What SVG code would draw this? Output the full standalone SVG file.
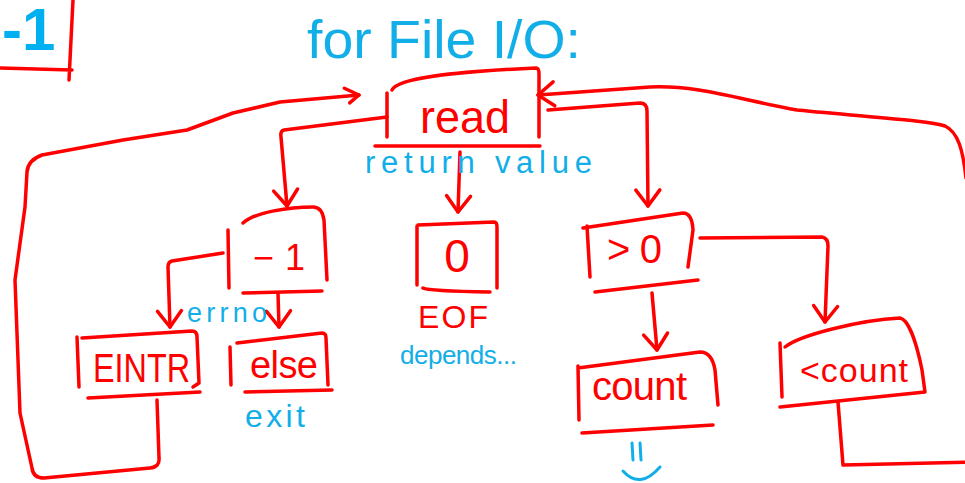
<svg xmlns="http://www.w3.org/2000/svg" width="965" height="483" viewBox="0 0 965 483">
  <style>
    .ink { fill: none; stroke: #ff0000; stroke-width: 3.5; stroke-linecap: round; stroke-linejoin: round; }
    .blueink { fill: none; stroke: #12aee8; stroke-width: 3; stroke-linecap: round; stroke-linejoin: round; }
    .lbl { font-family: "Liberation Sans", "DejaVu Sans", sans-serif; fill: #ff0000; }
    .note { font-family: "Liberation Sans", "DejaVu Sans", sans-serif; fill: #12aee8; }
  </style>
  <defs>
    <marker id="arr" markerUnits="userSpaceOnUse" markerWidth="40" markerHeight="40" refX="0" refY="0" viewBox="-20 -20 40 40" orient="auto" overflow="visible">
      <path d="M-16,-12 L0,0 L-16,12" fill="none" stroke="#ff0000" stroke-width="3.5" stroke-linecap="round" stroke-linejoin="round"/>
    </marker>
    <marker id="arrSmall" markerUnits="userSpaceOnUse" markerWidth="30" markerHeight="30" refX="0" refY="0" viewBox="-15 -15 30 30" orient="auto" overflow="visible">
      <path d="M-14,-8 L0,0 L-10,7" fill="none" stroke="#ff0000" stroke-width="3.5" stroke-linecap="round" stroke-linejoin="round"/>
    </marker>
  </defs>
  <rect width="965" height="483" fill="#ffffff"/>

  <!-- slide number corner -->
  <g id="slide-num">
    <text x="2" y="50" font-family="Liberation Sans, sans-serif" font-weight="bold" font-size="60" fill="#00b0f0">-1</text>
    <path class="ink" d="M0,68 L72,70 M73,0 L69,80"/>
  </g>

  <!-- heading -->
  <g id="heading">
    <text class="note" x="307" y="58" font-size="54" textLength="274" lengthAdjust="spacingAndGlyphs">for File I/O:</text>
  </g>

  <!-- connectors -->
  <g id="connectors">
    <!-- read to -1 -->
    <path class="ink" d="M387,117 L284,130 Q280,131 281,137 L287,206" marker-end="url(#arr)"/>
    <!-- read to 0 -->
    <path class="ink" d="M460,152 L458,212" marker-end="url(#arr)"/>
    <!-- read to >0 -->
    <path class="ink" d="M548,110 L640,103 Q647,103 647,111 L648,206" marker-end="url(#arr)"/>
    <!-- -1 to EINTR -->
    <path class="ink" d="M223,253 L172,261 Q168,262 168,267 L170,327" marker-end="url(#arr)"/>
    <!-- -1 to else -->
    <path class="ink" d="M278,293 L279,327" marker-end="url(#arr)"/>
    <!-- >0 to <count -->
    <path class="ink" d="M700,238 L822,237 Q828,238 828,246 L825,322" marker-end="url(#arr)"/>
    <!-- >0 to count -->
    <path class="ink" d="M652,293 L657,350" marker-end="url(#arr)"/>
    <!-- EINTR retries: back round to read -->
    <path class="ink" d="M157,400 L159,458 Q160,467 150,468 L44,478 Q33,478 32,468 L20,413 L15,280 L25,207 L27,172 Q28,160 42,155 L123,140 L187,130 L233,113 L280,102 L359,95" marker-end="url(#arrSmall)"/>
    <!-- short read: loop back round to read -->
    <path class="ink" d="M838,402 L843,465 L975,462"/>
    <path class="ink" d="M966,178 C963,150 958,132 945,126 C930,121 880,118 797,110 C740,100 700,85 650,87 L538,95" marker-end="url(#arr)"/>
  </g>

  <g id="node-read">
    <path class="ink" d="M392,90 C398,78 450,72 536,68 Q539,68 539,74 L539,137 M387,93 L387,137 M375,146 L540,146"/>
    <text class="lbl" x="420" y="133" font-size="46" textLength="90" lengthAdjust="spacingAndGlyphs">read</text>
    <text class="note" x="365" y="173" font-size="31" textLength="227" lengthAdjust="spacing">return value</text>
  </g>

  <g id="node-minus1">
    <path class="ink" d="M243,223 C255,212 290,207 313,207 Q322,207 324,220 L327,280 M228,230 L229,288 M243,293 L322,291"/>
    <text class="lbl" x="253" y="270" font-size="36" textLength="52" lengthAdjust="spacing">−1</text>
    <text class="note" x="187" y="322" font-size="27" textLength="80" lengthAdjust="spacing">errno</text>
  </g>

  <g id="node-zero">
    <path class="ink" d="M418,225 L494,222 Q497,222 497,227 L497,288 M417,226 L417,285 M423,288 Q428,291 490,292"/>
    <text class="lbl" x="457" y="272" font-size="46" text-anchor="middle">0</text>
    <text class="lbl" x="418" y="328" font-size="32" textLength="70" lengthAdjust="spacing">EOF</text>
    <text class="note" x="400" y="364" font-size="26" textLength="117" lengthAdjust="spacing">depends...</text>
  </g>

  <g id="node-eintr">
    <path class="ink" d="M82,338 L192,331 Q197,331 197,337 L199,383 L193,387 M77,337 L79,387 M88,398 L200,392"/>
    <text class="lbl" x="93" y="382" font-size="40" textLength="97" lengthAdjust="spacingAndGlyphs">EINTR</text>
  </g>

  <g id="node-else">
    <path class="ink" d="M237,343 L322,333 Q326,333 326,338 L328,385 M230,347 L231,385 M245,392 L332,390"/>
    <text class="lbl" x="250" y="378" font-size="38" textLength="68" lengthAdjust="spacing">else</text>
    <text class="note" x="245" y="427" font-size="32" textLength="60" lengthAdjust="spacing">exit</text>
  </g>

  <g id="node-positive">
    <path class="ink" d="M583,228 L683,213 Q692,213 693,230 L688,267 M587,226 L590,277 M595,292 L698,280"/>
    <text class="lbl" x="607" y="263" font-size="40" textLength="55" lengthAdjust="spacing">&gt;0</text>
  </g>

  <g id="node-count">
    <path class="ink" d="M578,368 L700,352 Q712,352 715,370 L718,405 M578,366 L579,420 M582,433 L713,425"/>
    <text class="lbl" x="592" y="400" font-size="40" textLength="95" lengthAdjust="spacing">count</text>
    <path class="blueink" d="M632,443 L633,460 M640,443 L641,460 M623,471 Q640,490 660,467"/>
  </g>

  <g id="node-less-count">
    <path class="ink" d="M785,347 C800,335 860,320 900,318 C910,320 918,350 922,370 L925,392 M780,343 L782,397 M780,407 L925,392"/>
    <text class="lbl" x="800" y="382" font-size="34" textLength="108" lengthAdjust="spacing">&lt;count</text>
  </g>
</svg>
